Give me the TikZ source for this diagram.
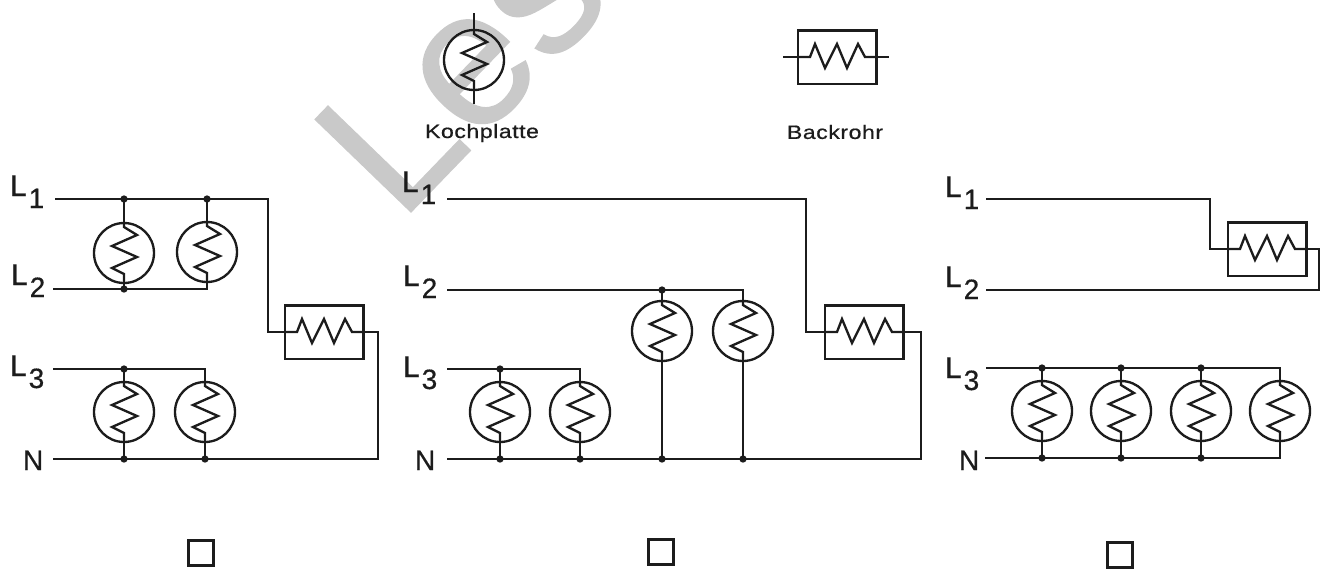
\documentclass[tikz,border=0pt]{standalone}
\usepackage{fontspec}
\setmainfont{Liberation Sans}
\newfontfamily\capfont[FakeStretch=1.2,LetterSpace=2.5,FakeBold=0.6]{Liberation Sans}
\newfontfamily\phasefont[FakeBold=0.5]{Liberation Sans}
\newfontfamily\markfont[FakeBold=0.9]{Liberation Sans}
\definecolor{ink}{HTML}{1C1C1C}
\definecolor{mark}{HTML}{C9C9C9}
\tikzset{
  wire/.style={draw=ink,line width=1.75pt,line join=miter},
  hobnode/.style={circle,draw=ink,line width=1.75pt,minimum size=45pt,inner sep=0pt,outer sep=0pt},
  ovennode/.style={rectangle,draw=ink,line width=1.75pt,minimum width=59pt,minimum height=40pt,inner sep=0pt,outer sep=0pt},
  jdot/.style={circle,fill=ink,minimum size=5.5pt,inner sep=0pt,outer sep=0pt},
  phaselabel/.style={anchor=base west,inner sep=0pt,outer sep=0pt,text=ink,font=\phasefont\fontsize{22.5pt}{24pt}\selectfont},
  nlabel/.style={phaselabel,font=\phasefont\fontsize{21pt}{22pt}\selectfont},
  caplabel/.style={inner sep=0pt,text=ink,font=\capfont\fontsize{14.5pt}{16pt}\selectfont},
  checkbox/.style={rectangle,draw=ink,line width=2.6pt,minimum size=19pt,inner sep=0pt,outer sep=0pt},
  watermark/.style={anchor=base west,inner sep=0pt,outer sep=0pt,rotate=46,text=mark,font=\markfont\fontsize{144.75pt}{150pt}\selectfont}
}
\newcommand{\hob}[3]{%
  \node[hobnode] (#1) at (#2,#3) {};
  \draw[wire,shift={(#2,#3)}] (0,-30) -- (0,-26) -- (13,-18) -- (-12,-7) -- (13,4) -- (-12,15) -- (0,21) -- (0,30);
}
\newcommand{\oven}[3]{%
  \node[ovennode] (#1) at (#2,#3) {};
  \draw[wire,shift={(#2,#3)}] (-39,0) -- (-27,0) -- (-22,-13) -- (-12,11) -- (0,-13) -- (10,11) -- (21,-13) -- (28,0) -- (39,0);
}
\newcommand{\tapd}[3]{\draw[wire] (#1.#2) -- (#1.#2 |- #3); \node[jdot] (#1#2) at (#1.#2 |- #3) {};}
\newcommand{\phase}[5]{\node[phaselabel] (#1) at (#2,#3) {#4\kern1.5pt\raisebox{-9pt}{\fontsize{21pt}{22pt}\selectfont #5}};}
\begin{document}
\begin{tikzpicture}[x=0.75pt,y=-0.75pt]
\useasboundingbox (0,0) rectangle (1325,569);
\begin{scope}
\clip (0,0) rectangle (1325,569);
\node[watermark] (wm) at (400,223) {Les};
\end{scope}

% legend
\hob{kh}{474}{60}
\coordinate (kt) at (474,13);
\coordinate (kb) at (474,104);
\draw[wire] (kt) -- (kh.north);
\draw[wire] (kh.south) -- (kb);
\node[caplabel] (kl) at (482,133) {Kochplatte};
\oven{bo}{837}{57}
\coordinate (bl) at (783,57);
\coordinate (br) at (889,57);
\draw[wire] (bl) -- (bo.west);
\draw[wire] (bo.east) -- (br);
\node[caplabel] (bk) at (835,132) {Backrohr};

% left panel
\phase{aLa}{10}{196}{L}{1}
\phase{aLb}{11}{285}{L}{2}
\phase{aLc}{10}{376}{L}{3}
\node[nlabel] (aN) at (23,470) {N};
\coordinate (a1) at (55,199);
\coordinate (a2) at (53,289);
\coordinate (a3) at (53,369);
\coordinate (a4) at (53,459);
\hob{aA}{124}{253}\hob{aB}{207}{252}\hob{aC}{124}{412}\hob{aD}{205}{412}
\oven{aO}{324}{332}
\draw[wire] (a1) -| (268,332) -- (aO.west);
\draw[wire] (aO.east) -- (378,332) |- (a4);
\draw[wire] (a2) -| (aB.south);
\draw[wire] (a3) -| (aD.north);
\tapd{aA}{north}{a1}\tapd{aB}{north}{a1}\tapd{aA}{south}{a2}
\tapd{aC}{north}{a3}\tapd{aC}{south}{a4}\tapd{aD}{south}{a4}

% middle panel
\phase{bLa}{402}{192}{L}{1}
\phase{bLb}{403}{286}{L}{2}
\phase{bLc}{403}{377}{L}{3}
\node[nlabel] (bN) at (415,470) {N};
\coordinate (b1) at (447,199);
\coordinate (b2) at (447,290);
\coordinate (b3) at (447,369);
\coordinate (b4) at (447,459);
\hob{bA}{500}{412}\hob{bB}{580}{412}\hob{bC}{662}{331}\hob{bD}{743}{331}
\oven{bO}{864}{332}
\draw[wire] (b1) -| (806,332) -- (bO.west);
\draw[wire] (bO.east) -- (921,332) |- (b4);
\draw[wire] (b2) -| (bD.north);
\draw[wire] (b3) -| (bB.north);
\tapd{bC}{north}{b2}\tapd{bA}{north}{b3}
\tapd{bA}{south}{b4}\tapd{bB}{south}{b4}\tapd{bC}{south}{b4}\tapd{bD}{south}{b4}

% right panel
\phase{cLa}{945}{197}{L}{1}
\phase{cLb}{945}{287}{L}{2}
\phase{cLc}{945}{378}{L}{3}
\node[nlabel] (cN) at (959,470) {N};
\coordinate (c1) at (986,199);
\coordinate (c2) at (986,290);
\coordinate (c3) at (986,368);
\coordinate (c4) at (985,458);
\hob{cA}{1042}{411}\hob{cB}{1121}{411}\hob{cC}{1201}{411}\hob{cD}{1280}{411}
\oven{cO}{1267}{249}
\draw[wire] (c1) -| (1210,249) -- (cO.west);
\draw[wire] (cO.east) -- (1319,249) |- (c2);
\draw[wire] (c3) -| (cD.north);
\draw[wire] (c4) -| (cD.south);
\tapd{cA}{north}{c3}\tapd{cB}{north}{c3}\tapd{cC}{north}{c3}
\tapd{cA}{south}{c4}\tapd{cB}{south}{c4}\tapd{cC}{south}{c4}

% answer boxes
\node[checkbox] (q1) at (201,553) {};
\node[checkbox] (q2) at (661,552) {};
\node[checkbox] (q3) at (1120,555) {};
\end{tikzpicture}
\end{document}
